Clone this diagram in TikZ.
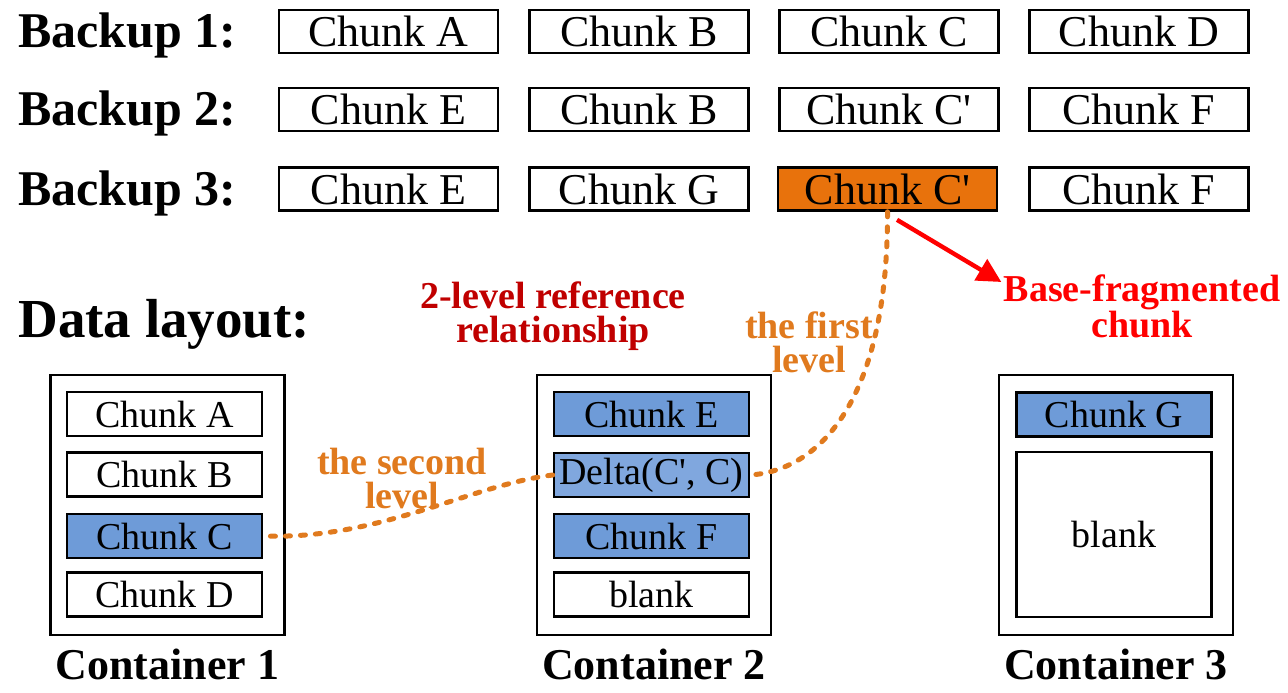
\documentclass[tikz,border=0pt]{standalone}
\usepackage{fontspec}
\setmainfont{Liberation Serif}
\usetikzlibrary{positioning,arrows.meta}
\definecolor{ChunkBlue}{HTML}{6E9BD8}
\definecolor{DeltaBlue}{HTML}{80A7DE}
\definecolor{BaseOrange}{HTML}{E8720C}
\definecolor{RefOrange}{HTML}{E07A1E}
\definecolor{RefRed}{HTML}{C00000}
\definecolor{FragRed}{HTML}{FF0000}

\tikzset{
  backup/.style={font=\fontsize{25}{30}\selectfont\bfseries, anchor=base west, inner sep=0},
  chunk/.style={draw, line width=1.3pt, fill=white, minimum width=109.5pt,
    minimum height=21.5pt, inner sep=0, font=\fontsize{22}{26}\selectfont},
  slot/.style={draw, line width=1.3pt, fill=white, minimum width=97.5pt,
    minimum height=22pt, inner sep=0, font=\fontsize{19}{22}\selectfont},
  container/.style={draw, line width=1.3pt, minimum width=117pt, minimum height=130pt, inner sep=0},
  clabel/.style={font=\fontsize{22}{26}\selectfont\bfseries, inner sep=0},
  note/.style={font=\fontsize{19}{17}\selectfont\bfseries, align=center, inner sep=0, anchor=north},
  levelref/.style={RefOrange, line width=2.5pt, line cap=round, dash pattern=on 2.5pt off 5pt},
  fragarrow/.style={FragRed, line width=2.2pt, -{Triangle[length=12pt,width=12pt]}},
}
\newcommand{\prm}{\textquotesingle}

\begin{document}
\begin{tikzpicture}[x=0.5pt,y=-0.5pt]
  \useasboundingbox (0,0) rectangle (1288,692);

  % backups
  \node[backup] (b1) at (18,47) {Backup 1:};
  \node[backup] (b2) at (18,125) {Backup 2:};
  \node[backup] (b3) at (18,205) {Backup 3:};

  \node[chunk] (a1) at (388.5,31.5) {Chunk A};
  \node[chunk] (a2) at (639,31.5) {Chunk B};
  \node[chunk] (a3) at (889,31.5) {Chunk C};
  \node[chunk] (a4) at (1139,31.5) {Chunk D};

  \node[chunk] (e1) at (388.5,109.5) {Chunk E};
  \node[chunk] (e2) at (639,109.5) {Chunk B};
  \node[chunk] (e3) at (889,109.5) {Chunk C\prm};
  \node[chunk] (e4) at (1139,109.5) {Chunk F};

  \node[chunk] (o1) at (388.5,189) {Chunk E};
  \node[chunk] (o2) at (639,189) {Chunk G};
  \node[chunk, fill=BaseOrange] (o3) at (887.5,189) {Chunk C\prm};
  \node[chunk] (o4) at (1139,189) {Chunk F};

  % data layout
  \node[font=\fontsize{27.5}{32}\selectfont\bfseries, anchor=base west, inner sep=0] (dl) at (18,337) {Data layout:};

  \node[container] (c1) at (167.5,505) {};
  \node[slot] (s1a) at (164.5,414) {Chunk A};
  \node[slot] (s1b) at (164.5,474.5) {Chunk B};
  \node[slot, fill=ChunkBlue] (s1c) at (164.5,536) {Chunk C};
  \node[slot] (s1d) at (164.5,594.5) {Chunk D};

  \node[container] (c2) at (654,505) {};
  \node[slot, fill=ChunkBlue] (s2e) at (651.5,414) {Chunk E};
  \node[slot, fill=DeltaBlue] (s2d) at (651.5,475) {Delta(C\prm, C)};
  \node[slot, fill=ChunkBlue] (s2f) at (651.5,536) {Chunk F};
  \node[slot] (s2b) at (651.5,594.5) {blank};

  \node[container] (c3) at (1116,505) {};
  \node[slot, fill=ChunkBlue] (s3g) at (1114,414.5) {Chunk G};
  \node[slot, minimum height=82.5pt] (s3b) at (1114,534.5) {blank};

  \node[clabel, below=6pt of c1] (l1) {Container 1};
  \node[clabel, below=6pt of c2] (l2) {Container 2};
  \node[clabel, below=6pt of c3] (l3) {Container 3};

  % references
  \node[note, RefRed] (rel) at (553,281) {2-level reference\\relationship};
  \node[note, RefOrange] (first) at (809,311) {the first\\level};
  \node[note, RefOrange] (second) at (402,448) {the second\\level};
  \node[note, FragRed] (bf) at (1142,274) {Base-fragmented\\chunk};

  \draw[levelref] (o3.south) .. controls (888,400) and (820,470) .. (s2d.east);
  \draw[levelref] (s2d.west) .. controls (470,485) and (380,540) .. (s1c.east);
  \draw[fragarrow] ([xshift=4.75pt,yshift=-4pt]o3.south) -- ([xshift=-1pt,yshift=-4pt]bf.north west);
\end{tikzpicture}
\end{document}
